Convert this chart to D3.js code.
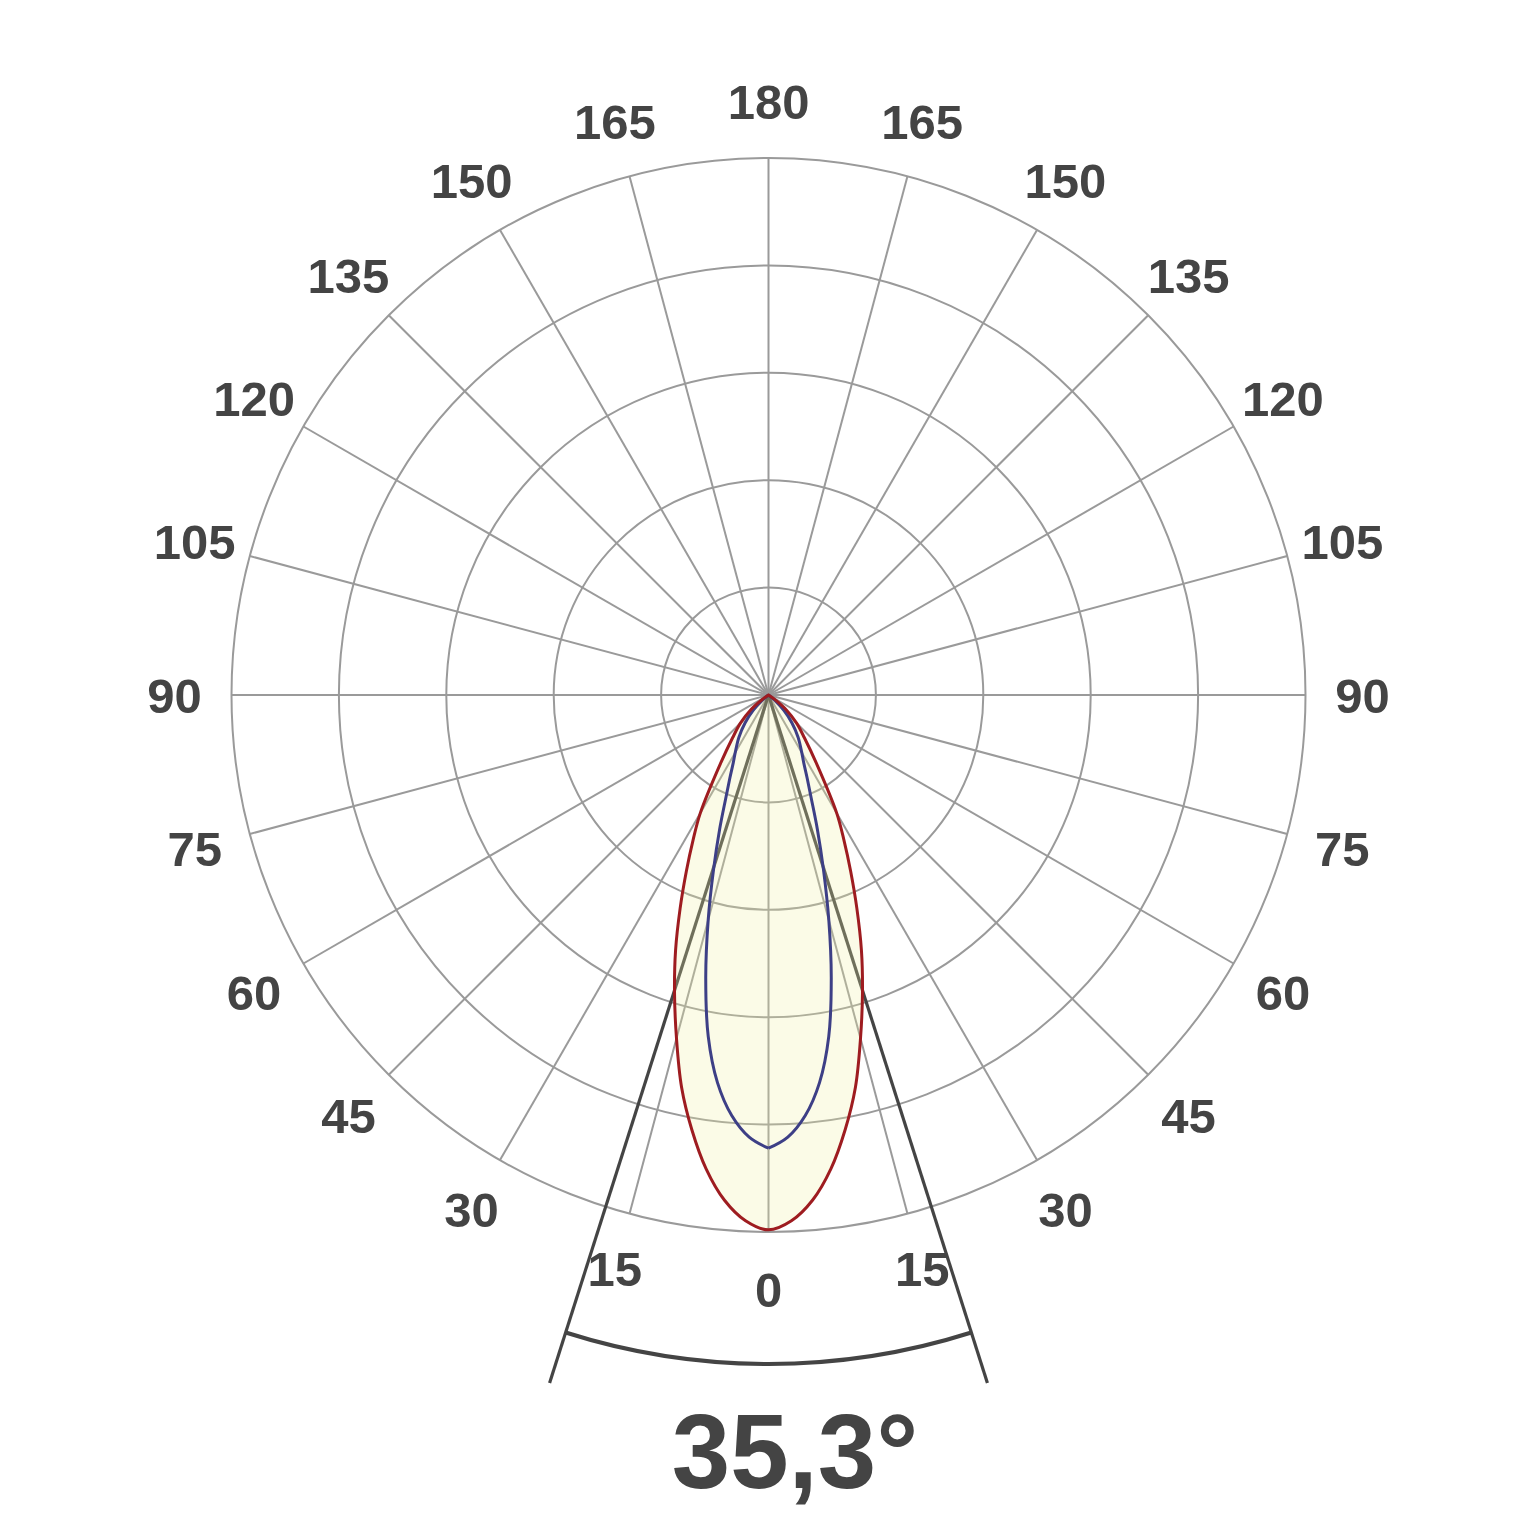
<!DOCTYPE html>
<html>
<head>
<meta charset="utf-8">
<script src="https://cdn.jsdelivr.net/npm/d3@7"></script>
<style>
  html, body { margin: 0; padding: 0; background: #fff; }
  svg { display: block; }
</style>
</head>
<body>
<svg id="chart" width="1537" height="1537"></svg>
<script>
// ---- data ----
const gridAngles = d3.range(0, 360, 15);            // spokes (degrees from nadir)
const tickLabels = [0, 15, 30, 45, 60, 75, 90, 105, 120, 135, 150, 165, 180];
const ringValues = [100, 200, 300, 400, 500];
const redAngles  = [0, 2.5, 5, 7.5, 10, 12.5, 15, 17.5, 20, 22.5, 25, 27.5, 30, 35, 40, 45, 50, 55, 60];
const redValues  = [498, 490, 472, 445, 411, 374, 331, 291, 253, 215, 181, 152, 127, 78, 52, 37, 22, 6, 0];
const blueAngles = [0, 2.5, 5, 7.5, 10, 12.5, 15, 17.5, 20, 22.5, 25, 27.5, 30, 35, 40, 45, 50, 55];
const blueValues = [422, 412, 393, 364, 323, 270, 217, 170, 133, 104, 85, 71, 62, 48, 34, 20, 8, 0];
const beamAngle  = 35.3;
const beamLabel  = "35,3°";

// ---- layout ----
const W = 1537, cx = 768.5, cy = 695, R = 537, labelR = 594;
const svg = d3.select("#chart");
svg.append("rect").attr("width", W).attr("height", W).attr("fill", "#fff");
const g = svg.append("g").attr("transform", `translate(${cx},${cy})`);

const r = d3.scaleLinear().domain([0, 500]).range([0, R]);
const rad = a => a * Math.PI / 180;
// polar angle measured from straight down, positive to the right
const px = (a, rr) => rr * Math.sin(rad(a));
const py = (a, rr) => rr * Math.cos(rad(a));

const gridColor = "#9a9a9a";
// rings
g.selectAll("circle.ring").data(ringValues).join("circle")
  .attr("class", "ring").attr("r", d => r(d))
  .attr("fill", "none").attr("stroke", gridColor).attr("stroke-width", 2);
// spokes
g.selectAll("line.spoke").data(gridAngles).join("line")
  .attr("class", "spoke")
  .attr("x1", 0).attr("y1", 0)
  .attr("x2", d => px(d, R)).attr("y2", d => py(d, R))
  .attr("stroke", gridColor).attr("stroke-width", 2);

// labels
const labelData = [];
tickLabels.forEach(t => {
  labelData.push({a: t, t});
  if (t !== 0 && t !== 180) labelData.push({a: -t, t});
});
g.selectAll("text.lab").data(labelData).join("text")
  .attr("class", "lab")
  .attr("x", d => px(d.a, labelR))
  .attr("y", d => py(d.a, labelR))
  .attr("dy", "0.36em")
  .attr("text-anchor", "middle")
  .attr("font-family", "Liberation Sans, Arial, Helvetica, sans-serif")
  .attr("font-weight", "bold")
  .attr("font-size", 49)
  .attr("fill", "#444")
  .text(d => d.t);

// beam angle lines
const half = beamAngle / 2;
const beamLen = 722, arcR = 669;
g.selectAll("line.beam").data([-half, half]).join("line")
  .attr("class", "beam")
  .attr("x1", 0).attr("y1", 0)
  .attr("x2", d => px(d, beamLen)).attr("y2", d => py(d, beamLen))
  .attr("stroke", "#444").attr("stroke-width", 3.2);
const arc = d3.arc().innerRadius(arcR).outerRadius(arcR)
  .startAngle(Math.PI - rad(half)).endAngle(Math.PI + rad(half));
g.append("path").attr("d", arc())
  .attr("fill", "none").attr("stroke", "#444").attr("stroke-width", 4);

// curves
function buildPts(angles, values) {
  const pts = [];
  for (let i = angles.length - 1; i > 0; i--) pts.push({a: -angles[i], v: values[i]});
  for (let i = 0; i < angles.length; i++) pts.push({a: angles[i], v: values[i]});
  pts.push({a: 180, v: 0});
  return pts;
}
function halfPts(angles, values, sign) {
  const pts = angles.map((a, i) => ({a: sign * a, v: values[i]}));
  pts.push({a: sign * 180, v: 0});
  return pts;
}
const redPts = buildPts(redAngles, redValues);

const redLine = d3.lineRadial()
  .angle(d => Math.PI - rad(d.a))
  .radius(d => r(d.v))
  .curve(d3.curveCatmullRomClosed.alpha(0.5));
const openLine = d3.lineRadial()
  .angle(d => Math.PI - rad(d.a))
  .radius(d => r(d.v))
  .curve(d3.curveCatmullRom.alpha(0.5));

g.append("path").attr("d", redLine(redPts))
  .attr("fill", "#f0f0a0").attr("fill-opacity", 0.25).attr("stroke", "none");
g.append("path")
  .attr("d", openLine(halfPts(blueAngles, blueValues, 1)) + openLine(halfPts(blueAngles, blueValues, -1)))
  .attr("fill", "none").attr("stroke", "#3d3f86").attr("stroke-width", 3)
  .attr("stroke-linejoin", "round");
g.append("path").attr("d", redLine(redPts))
  .attr("fill", "none").attr("stroke", "#9e1c20").attr("stroke-width", 3);

// beam label
svg.append("text")
  .attr("x", 795).attr("y", 1488)
  .attr("text-anchor", "middle")
  .attr("font-family", "Liberation Sans, Arial, Helvetica, sans-serif")
  .attr("font-weight", "bold")
  .attr("font-size", 105)
  .attr("fill", "#444")
  .text(beamLabel);
</script>
</body>
</html>
